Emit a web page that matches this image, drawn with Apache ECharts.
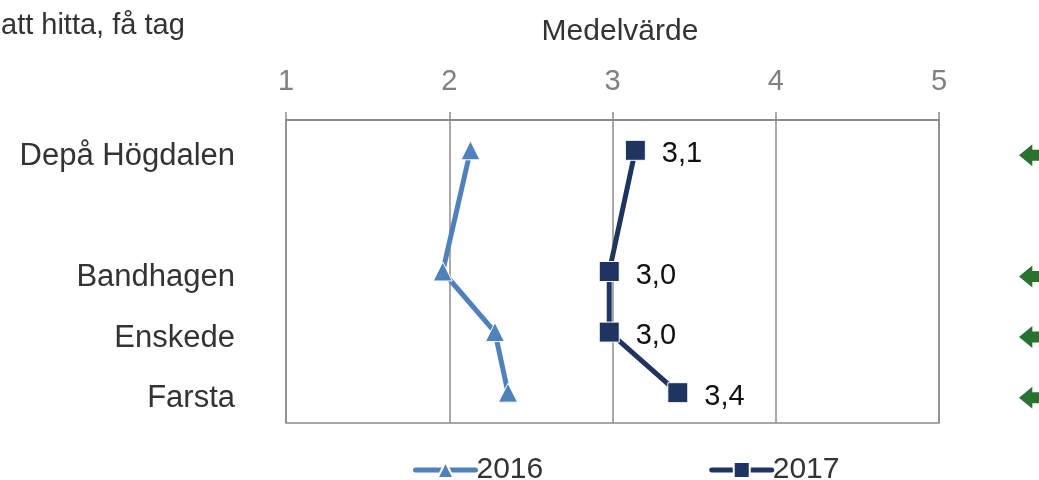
<!DOCTYPE html>
<html>
<head>
    <meta charset="utf-8">
    <title>Medelvärde</title>
    <script src="https://cdn.jsdelivr.net/npm/echarts@6/dist/echarts.min.js"></script>
    <style>
        html, body { margin: 0; padding: 0; background: #fff; }
        #chart1 { width: 1039px; height: 480px; }
    </style>
</head>
<body>
<div id="chart1"></div>
<script>
    // kategorier (tom rad mellan Depå och Bandhagen)
    var categories = ['Depå Högdalen', '', 'Bandhagen', 'Enskede', 'Farsta'];
    var values2016 = [2.13, '-', 1.96, 2.28, 2.36];
    var values2017 = [3.14, '-', 2.98, 2.98, 3.40];
    var arrowRows = [0, 2, 3, 4];
    var xTicks = [1, 2, 3, 4, 5];

    var arrowPath = 'path://M0,10 L10,0 L10,5 L30,5 L30,15 L10,15 L10,20 Z';

    var myChart1 = echarts.init(document.getElementById('chart1'));
    var font = 'Liberation Sans, Arial, sans-serif';

    myChart1.setOption({
        textStyle: { fontFamily: font },
        title: [
            {
                text: 'att hitta, få tag',
                left: -4, top: 6,
                textStyle: { fontSize: 29, fontWeight: 'normal', color: '#333', fontFamily: font }
            },
            {
                text: 'Medelvärde',
                left: 615, top: 12, textAlign: 'center',
                textStyle: { fontSize: 30, fontWeight: 'normal', color: '#333', fontFamily: font }
            }
        ],
        legend: {
            top: 450,
            left: 408,
            itemGap: 166,
            itemWidth: 60,
            itemHeight: 20,
            lineStyle: { width: 5, cap: 'round' },
            textStyle: { fontSize: 30, color: '#333', fontFamily: font, padding: [0, 0, 0, -4] },
            data: ['2016', '2017']
        },
        grid: [
            {
                left: 286, right: 100, top: 120, bottom: 57,
                show: true, borderColor: '#8c8c8c', borderWidth: 1.5
            },
            { left: 1000, right: 0, top: 120, bottom: 57 }
        ],
        xAxis: [
            {
                type: 'value', position: 'top', min: xTicks[0], max: xTicks[xTicks.length - 1], interval: 1,
                axisLine: { show: true, lineStyle: { color: '#8c8c8c', width: 2 } },
                axisTick: { show: true, length: 8, lineStyle: { color: '#8c8c8c', width: 1.5 } },
                axisLabel: { fontSize: 29, color: '#808080', margin: 24, fontFamily: font },
                splitLine: { show: true, lineStyle: { color: '#8c8c8c', width: 1.5 } }
            },
            { type: 'value', gridIndex: 1, min: 0, max: 1, show: false }
        ],
        yAxis: [
            {
                type: 'category', inverse: true, data: categories,
                axisLine: { show: false },
                axisTick: { show: false },
                axisLabel: {
                    fontSize: 31, color: '#333', margin: 51, fontFamily: font,
                    verticalAlign: 'top', lineHeight: 12
                },
                splitLine: { show: false }
            },
            { type: 'category', gridIndex: 1, inverse: true, data: categories, show: false }
        ],
        series: [
            {
                name: '2016', type: 'line', data: values2016, connectNulls: true,
                symbol: 'triangle', symbolSize: 19,
                lineStyle: { color: '#4f81bd', width: 5 },
                itemStyle: { color: '#4f81bd', borderColor: '#fff', borderWidth: 1 }
            },
            {
                name: '2017', type: 'line', data: values2017, connectNulls: true,
                symbol: 'rect', symbolSize: 20,
                lineStyle: { color: '#1f3461', width: 5 },
                itemStyle: { color: '#1f3461', borderColor: '#fff', borderWidth: 1 },
                label: {
                    show: true, position: 'right', distance: 16, offset: [0, 4],
                    fontSize: 29, color: '#111', fontFamily: font,
                    formatter: function (p) { return p.value.toFixed(1).replace('.', ','); }
                }
            },
            {
                type: 'scatter', xAxisIndex: 1, yAxisIndex: 1,
                data: arrowRows.map(function (r) { return [1.0, categories[r]]; }),
                symbol: arrowPath, symbolSize: [40, 22], symbolOffset: [0, 5],
                itemStyle: { color: '#2a7230', opacity: 1 },
                clip: false,
                silent: true
            }
        ]
    });
</script>
</body>
</html>
